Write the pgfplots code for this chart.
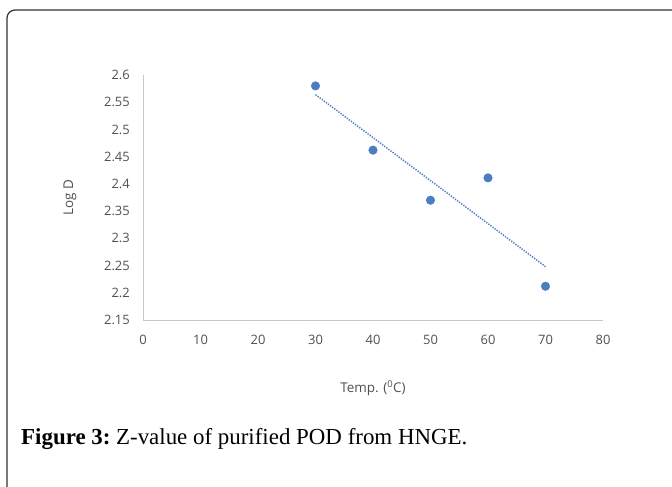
\documentclass[border=0pt]{standalone}
\usepackage{fontspec}
\setmainfont{Liberation Serif}
\newfontfamily\axfont{Open Sans}
\usepackage{pgfplots}
\pgfplotsset{compat=1.18}
\definecolor{ptblue}{HTML}{4A7EC1}
\definecolor{labgray}{HTML}{505050}
\definecolor{axgray}{HTML}{C8C8C8}
\begin{document}
\begin{tikzpicture}
\useasboundingbox (0,0) rectangle (672bp,487bp);
\draw[line width=1.2bp, black!80, rounded corners=8bp] (7bp,-5bp) -- (7bp,477bp) -- (680bp,477bp);
\begin{axis}[
  at={(143bp,167bp)}, anchor=south west,
  scale only axis, width=460bp, height=245bp,
  xmin=0, xmax=80, ymin=2.15, ymax=2.6,
  axis x line*=bottom, axis y line*=left,
  axis line style={axgray, line width=0.9bp},
  xtick={0,10,20,30,40,50,60,70,80},
  ytick={2.15,2.2,2.25,2.3,2.35,2.4,2.45,2.5,2.55,2.6},
  yticklabels={2.15,2.2,2.25,2.3,2.35,2.4,2.45,2.5,2.55,2.6},
  major tick length=0pt,
  /pgf/number format/assume math mode=true,
  ticklabel style={font=\axfont\fontsize{13}{15}\selectfont, text=labgray, inner sep=0pt},
  yticklabel style={anchor=east, xshift=-13bp},
  xticklabel style={anchor=north, yshift=-15bp},
  xlabel={Temp. (\textsuperscript{0}C)},
  ylabel={Log D},
  label style={font=\axfont\fontsize{13.5}{15}\selectfont, text=labgray},
  xlabel style={at={(axis description cs:0.5,-0.278)}, anchor=center},
  ylabel style={at={(axis description cs:-0.159,0.5)}, anchor=center, rotate=0},
  clip=false,
]
\addplot[ptblue, line width=1.5bp, dash pattern=on 1.3bp off 1.3bp] coordinates {(30,2.564) (70,2.248)};
\addplot[only marks, mark=*, mark size=4.3bp, mark options={fill=ptblue, draw=ptblue}] coordinates {
(30,2.58) (40,2.462) (50,2.370) (60,2.411) (70,2.212)};
\end{axis}
\node[anchor=base west, inner sep=0pt] at (21bp,42bp) {\fontsize{23}{26}\selectfont\textbf{Figure 3:}\hspace{-2bp} Z-value of purified POD from HNGE.};
\end{tikzpicture}
\end{document}
